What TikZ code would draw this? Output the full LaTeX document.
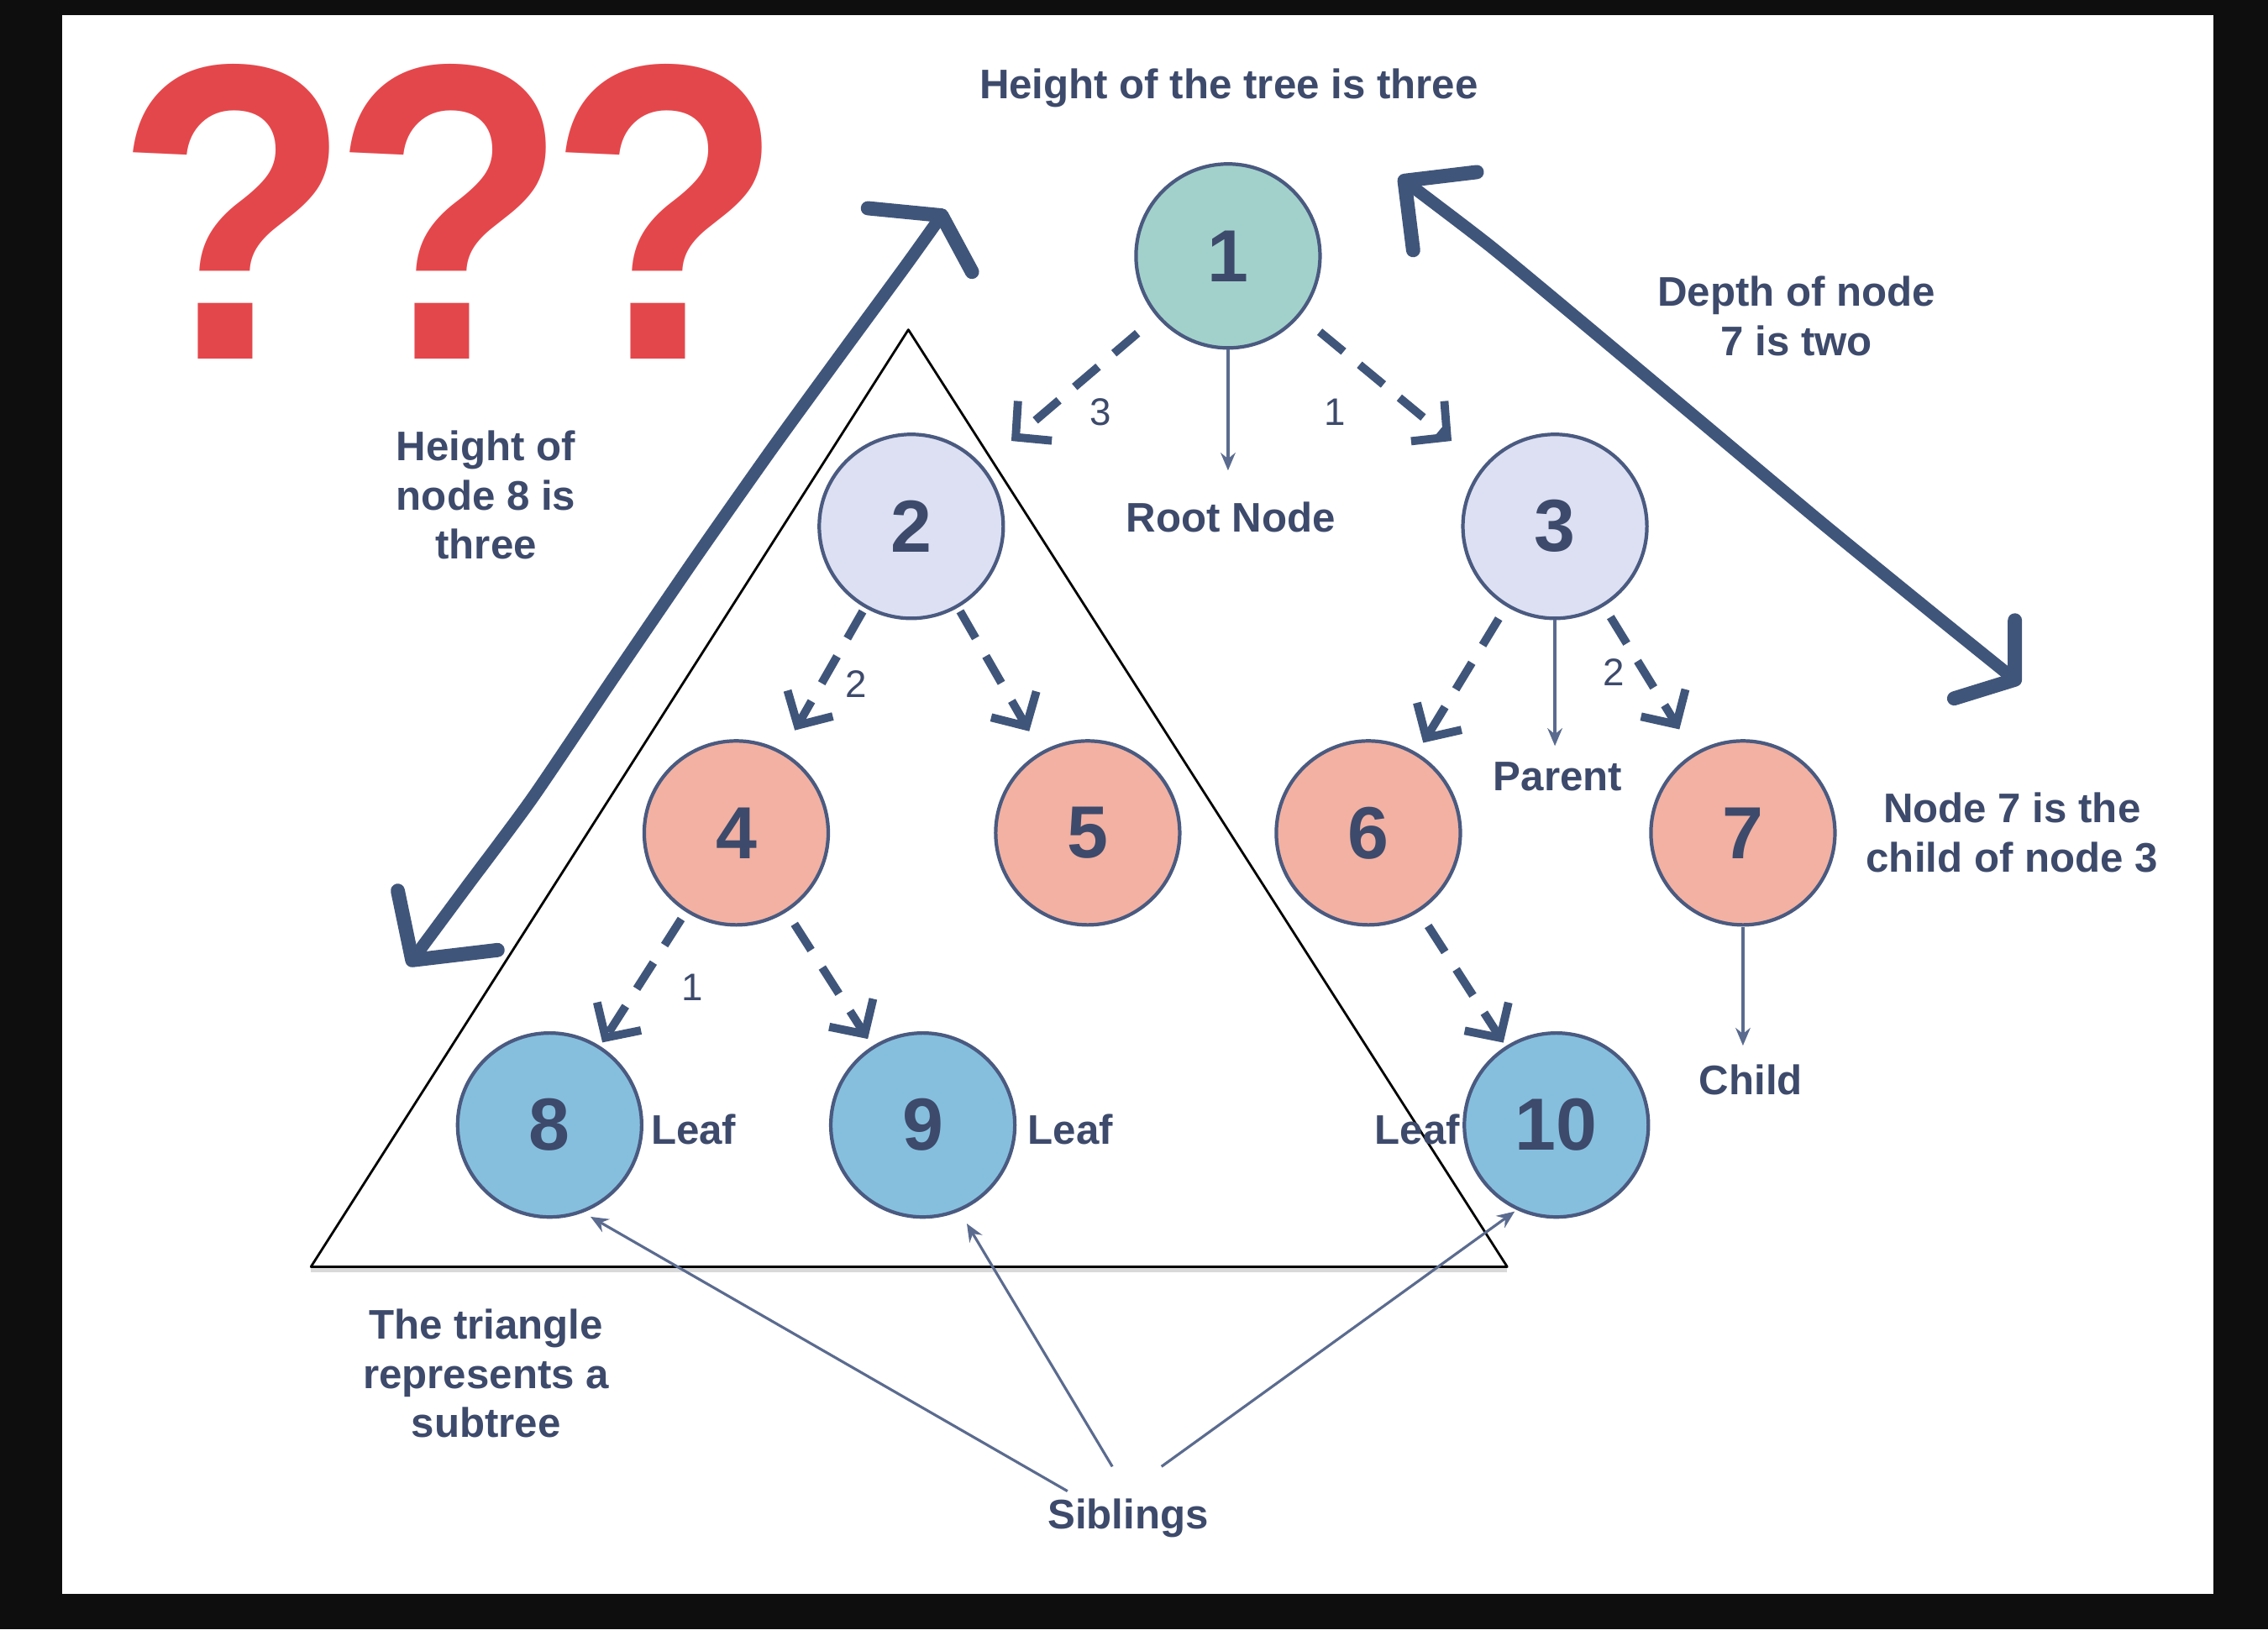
\documentclass[tikz,border=0pt]{standalone}
\usepackage{fontspec}
\usepackage{graphicx}
\setmainfont{Liberation Sans}
\usetikzlibrary{arrows.meta,calc}
\definecolor{cBlack}{HTML}{0E0E0E}
\definecolor{cRed}{HTML}{E4474B}
\definecolor{cTxt}{HTML}{3D4A6B}
\definecolor{cArrow}{HTML}{40557A}
\definecolor{cBorder}{HTML}{4A5A80}
\definecolor{cThinLine}{HTML}{5B6B8F}
\definecolor{cTeal}{HTML}{A2D1CB}
\definecolor{cLav}{HTML}{DCE0F2}
\definecolor{cSalmon}{HTML}{F2B1A2}
\definecolor{cBlue}{HTML}{86BFDE}
\newcommand{\qqq}{\scalebox{0.9156}[1]{?\kern-7.4pt?\kern-7.4pt?}}
\begin{document}
\begin{tikzpicture}[x=0.0172194cm,y=-0.0172194cm,
  treenode/.style={circle,draw=cBorder,line width=1.2pt,minimum size=2.19cm,inner sep=0pt,
    font=\fontsize{25}{25}\selectfont\bfseries,text=cTxt},
  lbltext/.style={font=\fontsize{14}{16.6}\selectfont\bfseries,text=cTxt,inner sep=0pt,align=center},
  edgenum/.style={font=\fontsize{13}{13}\selectfont,text=cTxt,inner sep=0pt},
  dasharr/.style={draw=cArrow,line width=2.8pt,dash pattern=on 10.5pt off 7pt,
    -{Straight Barb[length=3mm,width=6.2mm]}},
  thinarr/.style={draw=cThinLine,line width=1pt,-{Stealth[length=6pt,width=5pt,inset=2pt]}},
  sibarr/.style={draw=cThinLine,line width=0.9pt,-{Stealth[length=6pt,width=5pt,inset=2pt]}},
  bigstroke/.style={draw=cArrow,line width=4.2pt,line cap=round,line join=round},
  bighead/.style={draw=cArrow,line width=4.8pt,line cap=round,line join=round},
  qmark/.style={anchor=base,inner sep=0pt,text depth=0pt,font=\fontsize{143}{143}\selectfont\bfseries}
]
% frame
\fill[cBlack] (0,0) rectangle (1568,1126.7);
\useasboundingbox (0,0) rectangle (1568,1126.7);
\fill[white] (43,10.5) rectangle (1530,1102);

% question marks
\node[qmark,text=cRed] (qm) at (311,248) {\qqq};

% subtree triangle
\coordinate (ta) at (628,228);
\coordinate (tb) at (215,876);
\coordinate (tc) at (1042,876);
\draw[black!15,line width=2pt] ([yshift=-1pt]tb) -- ([yshift=-1pt]tc);
\draw[black,line width=0.8pt,line join=round] (ta) -- (tb) -- (tc) -- cycle;

% tree nodes
\node[treenode,fill=cTeal]   (n1)  at (849,177) {1};
\node[treenode,fill=cLav]    (n2)  at (630,364) {2};
\node[treenode,fill=cLav]    (n3)  at (1075,364) {3};
\node[treenode,fill=cSalmon] (n4)  at (509,576) {4};
\node[treenode,fill=cSalmon] (n5)  at (752,576) {5};
\node[treenode,fill=cSalmon] (n6)  at (946,576) {6};
\node[treenode,fill=cSalmon] (n7)  at (1205,576) {7};
\node[treenode,fill=cBlue]   (n8)  at (380,778) {8};
\node[treenode,fill=cBlue]   (n9)  at (638,778) {9};
\node[treenode,fill=cBlue]   (n10) at (1076,778) {10};

% dashed tree edges
\draw[dasharr,shorten <=0.3cm,shorten >=0.45cm] (n1) -- (n2);
\draw[dasharr,shorten <=0.3cm,shorten >=0.48cm] (n1) -- (n3);
\draw[dasharr,shorten <=0.05cm,shorten >=0.29cm] (n2) -- (n4);
\draw[dasharr,shorten <=0.05cm,shorten >=0.28cm] (n2) -- (n5);
\draw[dasharr,shorten <=0.17cm,shorten >=0.14cm] (n3) -- (n6);
\draw[dasharr,shorten <=0.15cm,shorten >=0.33cm] (n3) -- (n7);
\draw[dasharr,shorten <=0.1cm,shorten >=0.05cm] (n4) -- (n8);
\draw[dasharr,shorten <=0.17cm,shorten >=0.1cm] (n4) -- (n9);
\draw[dasharr,shorten <=0.2cm,shorten >=0.05cm] (n6) -- (n10);

% edge numbers
\node[edgenum] (e12) at (761,285) {3};
\node[edgenum] (e13) at (923,285) {1};
\node[edgenum] (e24) at (592,473) {2};
\node[edgenum] (e37) at (1116,465) {2};
\node[edgenum] (e48) at (478.5,683) {1};

% labels (base anchor = last line baseline)
\node[lbltext,anchor=base] (title)  at (849.5,68.5) {Height of the tree is three};
\node[lbltext,anchor=base] (depth)  at (1242,245.7) {Depth of node\\7 is two};
\node[lbltext,anchor=base] (h8)     at (336,386.5) {Height of\\node 8 is\\three};
\node[lbltext,anchor=base] (n7txt)  at (1391,603) {Node 7 is the\\child of node 3};
\node[lbltext,anchor=base] (tri)    at (336,994) {The triangle\\represents a\\subtree};
\node[lbltext,anchor=base] (root)   at (851,368) {Root Node};
\node[lbltext,anchor=base] (parent) at (1077,547) {Parent};
\node[lbltext,anchor=base] (child)  at (1210.5,757) {Child};
\node[lbltext,anchor=base] (leaf8)  at (479.5,791.4) {Leaf};
\node[lbltext,anchor=base] (leaf9)  at (740,791.4) {Leaf};
\node[lbltext,anchor=base] (leaf10) at (980,791.4) {Leaf};
\node[lbltext,anchor=base] (sib)    at (780,1057) {Siblings};

% thin pointer arrows
\draw[thinarr,shorten >=0.37cm] (n1.south) -- (n1.south |- root.north);
\draw[thinarr,shorten >=0.19cm] (n3.south) -- (n3.south |- parent.north);
\draw[thinarr,shorten >=0.22cm] (n7.south) -- (n7.south |- child.north);

% siblings pointers
\draw[sibarr,shorten >=0.1cm]  ($(sib.center)+(-42,-18.5)$) -- (n8.-69);
\draw[sibarr,shorten >=0.17cm] ($(sib.center)+(-11,-35.5)$) -- (n9.-67.6);
\draw[sibarr,shorten >=0.03cm] ($(sib.center)+(23,-35.5)$) -- (n10.-115.5);

% hand-drawn double arrow: height of node 8
\coordinate (lTop) at (651,149);
\coordinate (lBot) at (285,664);
\draw[bigstroke] plot[smooth,tension=0.4] coordinates {(lBot) (322,614) (368,552) (426,466) (482,384) (534,310) (582,244) (626,184) (lTop)};
\draw[bighead] (600,144) -- (lTop) -- (672,188);
\draw[bighead] (275,616) -- (lBot) -- (344,657);

% hand-drawn double arrow: depth of node 7
\coordinate (rTop) at (971,125);
\coordinate (rBot) at (1393,470);
\draw[bigstroke] plot[smooth,tension=0.4] coordinates {(rTop) (1030,170) (1100,228) (1180,295) (1260,362) (1336,424) (rBot)};
\draw[bighead] (1021,119) -- (rTop) -- (977,173);
\draw[bighead] (1393,429) -- (rBot) -- (1351,483);
\end{tikzpicture}
\end{document}
